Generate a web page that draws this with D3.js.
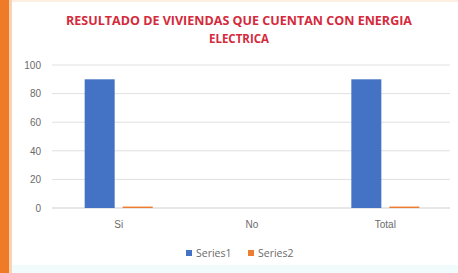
<!DOCTYPE html>
<html>
<head>
<meta charset="utf-8">
<script src="https://cdn.jsdelivr.net/npm/d3@7"></script>
<style>
body { margin: 0; background: #fff; }
svg { display: block; font-family: "Open Sans", "DejaVu Sans", sans-serif; }
</style>
</head>
<body>
<script>
var categories = ["Si", "No", "Total"];
var seriesNames = ["Series1", "Series2"];
var series1 = [90, 0, 90];
var series2 = [1, 0, 1];
var yTicks = [0, 20, 40, 60, 80, 100];
var titleLines = ["RESULTADO DE VIVIENDAS QUE CUENTAN CON ENERGIA", "ELECTRICA"];

var w = 458, h = 273;
var colors = ["#4472c4", "#ed7d31"];

var svg = d3.select("body").append("svg").attr("width", w).attr("height", h);

// frame bits of the screenshot
svg.append("rect").attr("x", 0).attr("y", 0).attr("width", w).attr("height", h).attr("fill", "#fff");
svg.append("rect").attr("x", 0).attr("y", 0).attr("width", w).attr("height", 2).attr("fill", "#fdeee2");
svg.append("rect").attr("x", 0).attr("y", 265).attr("width", w).attr("height", 8).attr("fill", "#f1fbfb");
svg.append("rect").attr("x", 0).attr("y", 0).attr("width", 9).attr("height", h).attr("fill", "#ef7b27");
svg.append("rect").attr("x", 9).attr("y", 0).attr("width", 3).attr("height", h).attr("fill", "#f9d3b6");

var xScale = d3.scaleBand().domain(categories).range([52, 452]);
var yScale = d3.scaleLinear().domain([0, 100]).range([208, 65]);

// gridlines
svg.selectAll("line.grid").data(yTicks).enter().append("line")
  .attr("class", "grid")
  .attr("x1", 52).attr("x2", 450)
  .attr("y1", function(d){ return yScale(d); })
  .attr("y2", function(d){ return yScale(d); })
  .attr("stroke", function(d){ return d === 0 ? "#cfcfcf" : "#e0e0e0"; })
  .attr("stroke-width", 1);

// y axis labels
var yAxis = d3.axisLeft(yScale).tickValues(yTicks).tickSize(0).tickPadding(0);
var yg = svg.append("g").attr("transform", "translate(41,0)").call(yAxis);
yg.select(".domain").remove();
yg.selectAll("text").attr("fill", "#6b6b6b").attr("font-size", "10px");

// bars
var barW = 30, gap = 8;
var groups = [series1, series2];
groups.forEach(function(vals, si){
  svg.selectAll("rect.s" + si).data(vals).enter().append("rect")
    .attr("class", "s" + si)
    .attr("x", function(d, i){
      var c = xScale(categories[i]) + xScale.bandwidth() / 2;
      return si === 0 ? c - gap / 2 - barW : c + gap / 2;
    })
    .attr("width", barW)
    .attr("y", function(d){ return yScale(d); })
    .attr("height", function(d){ return yScale(0) - yScale(d); })
    .attr("fill", colors[si]);
});

// x axis labels
var xAxis = d3.axisBottom(xScale).tickSize(0).tickPadding(0);
var xg = svg.append("g").attr("transform", "translate(0,221)").call(xAxis);
xg.select(".domain").remove();
xg.selectAll("text").attr("fill", "#6b6b6b").attr("font-size", "10px");

// title
svg.selectAll("text.title").data(titleLines).enter().append("text")
  .attr("class", "title")
  .attr("x", 239)
  .attr("y", function(d, i){ return 25 + i * 18; })
  .attr("text-anchor", "middle")
  .attr("font-size", "11.5px")
  .attr("font-weight", "bold")
  .attr("fill", "#d42a3c")
  .attr("textLength", function(d, i){ return i === 0 ? 346 : null; })
  .attr("lengthAdjust", "spacingAndGlyphs")
  .text(function(d){ return d; });

// legend
var legX = [186, 248];
seriesNames.forEach(function(name, i){
  svg.append("rect").attr("x", legX[i]).attr("y", 250).attr("width", 6).attr("height", 6).attr("fill", colors[i]);
  svg.append("text").attr("x", legX[i] + 10).attr("y", 257)
    .attr("font-size", "10.5px").attr("fill", "#6b6b6b").text(name);
});
</script>
</body>
</html>
